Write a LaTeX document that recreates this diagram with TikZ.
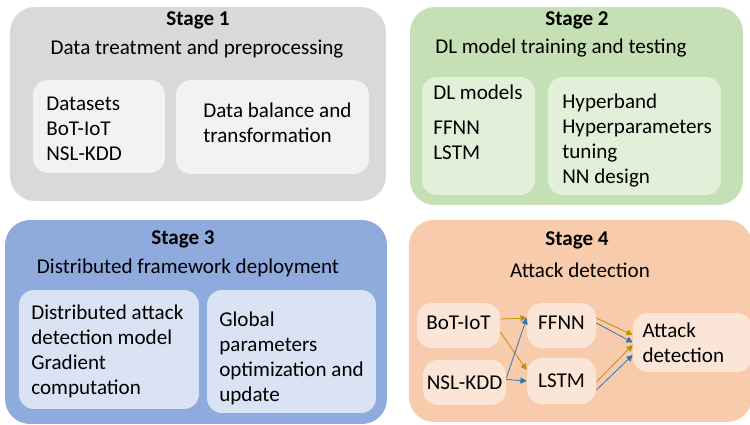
\documentclass[tikz,border=0pt]{standalone}
\usepackage{fontspec}
\setmainfont{Carlito}
\usetikzlibrary{arrows.meta, positioning}
\usepackage{xcolor}
\definecolor{grayout}{HTML}{D9D9D9}
\definecolor{grayin}{HTML}{F2F2F2}
\definecolor{greenout}{HTML}{C5E0B4}
\definecolor{greenin}{HTML}{E2F0D9}
\definecolor{blueout}{HTML}{8FAADC}
\definecolor{bluein}{HTML}{DAE3F3}
\definecolor{orangeout}{HTML}{F8CBAD}
\definecolor{orangein}{HTML}{FBE5D6}
\definecolor{arrgold}{HTML}{BF9000}
\definecolor{arrblue}{HTML}{2E75B6}

\begin{document}
\begin{tikzpicture}[
  x=0.02cm, y=-0.02cm,
  stage/.style={rectangle, rounded corners=0.5cm, inner sep=0pt},
  panel/.style={rectangle, rounded corners=0.3cm, inner sep=0pt},
  txt/.style={align=left, inner sep=0pt, anchor=west, font=\fontsize{12}{14.2}\selectfont},
  ttl/.style={inner sep=0pt, font=\fontsize{12}{14.2}\selectfont\bfseries},
  sub/.style={inner sep=0pt, font=\fontsize{12}{14.2}\selectfont},
  goldarr/.style={->, draw=arrgold, line width=0.45pt},
  bluearr/.style={->, draw=arrblue, line width=0.45pt},
  >={Triangle[length=3.5pt,width=3.5pt]}
]
\clip (0,0) rectangle (750,425);

% stage 1
\node[stage, fill=grayout, minimum width=7.52cm, minimum height=3.88cm] (s1) at (198,104) {};
\node[ttl] (s1ttl) at (198,20) {Stage 1};
\node[sub] (s1sub) at (197,49) {Data treatment and preprocessing};
\node[panel, fill=grayin, minimum width=2.64cm, minimum height=1.86cm] (s1a) at (99,126.5) {};
\node[panel, fill=grayin, minimum width=3.86cm, minimum height=1.88cm] (s1b) at (272.5,127) {};
\node[txt] (s1atxt) at (46,129) {Datasets\\BoT-IoT\\NSL-KDD};
\node[txt] (s1btxt) at (203,123) {Data balance and\\transformation};

% stage 2
\node[stage, fill=greenout, minimum width=6.66cm, minimum height=3.96cm] (s2) at (576.5,106) {};
\node[ttl] (s2ttl) at (577,20) {Stage 2};
\node[sub] (s2sub) at (561,48) {DL model training and testing};
\node[panel, fill=greenin, minimum width=2.26cm, minimum height=2.36cm] (s2a) at (478.5,136) {};
\node[panel, fill=greenin, minimum width=3.46cm, minimum height=2.36cm] (s2b) at (634.5,136) {};
\node[txt] (s2atxt) at (433,122.5) {DL models\\[0.2cm]FFNN\\LSTM};
\node[txt] (s2btxt) at (562,140.5) {Hyperband\\Hyperparameters\\tuning\\NN design};

% stage 3
\node[stage, fill=blueout, minimum width=7.64cm, minimum height=4.08cm] (s3) at (196,322) {};
\node[ttl] (s3ttl) at (183,239) {Stage 3};
\node[sub] (s3sub) at (188,268) {Distributed framework deployment};
\node[panel, fill=bluein, minimum width=3.6cm, minimum height=2.38cm] (s3a) at (109,349.5) {};
\node[panel, fill=bluein, minimum width=3.38cm, minimum height=2.46cm] (s3b) at (291.5,351.5) {};
\node[txt] (s3atxt) at (31,351.5) {Distributed attack\\detection model\\Gradient\\computation};
\node[txt] (s3btxt) at (219,358.5) {Global\\parameters\\optimization and\\update};

% stage 4
\node[stage, fill=orangeout, minimum width=6.86cm, minimum height=4.04cm] (s4) at (580.5,321) {};
\node[ttl] (s4ttl) at (577,240) {Stage 4};
\node[sub] (s4sub) at (580,270) {Attack detection};
\node[panel, fill=orangein, minimum width=1.66cm, minimum height=0.9cm, font=\fontsize{12}{14.2}\selectfont, text depth=0.12cm] (bot) at (458.5,325.5) {BoT-IoT};
\node[panel, fill=orangein, minimum width=1.66cm, minimum height=0.9cm, font=\fontsize{12}{14.2}\selectfont] (nsl) at (464.5,382.5) {NSL-KDD};
\node[panel, fill=orangein, minimum width=1.38cm, minimum height=0.9cm, font=\fontsize{12}{14.2}\selectfont, text depth=0.12cm] (ffnn) at (561.5,325.5) {FFNN};
\node[panel, fill=orangein, minimum width=1.38cm, minimum height=0.92cm, font=\fontsize{12}{14.2}\selectfont] (lstm) at (561.5,381) {LSTM};
\node[panel, fill=orangein, minimum width=2.38cm, minimum height=1.18cm, font=\fontsize{12}{14.2}\selectfont, align=left, text width=2.0cm] (att) at (692.5,342.5) {Attack\\detection};

\draw[goldarr] ([yshift=0.13cm]bot.east) -- ([yshift=0.15cm]ffnn.west);
\draw[goldarr] ([yshift=-0.13cm]bot.east) -- ([yshift=0.22cm]lstm.west);
\draw[bluearr] ([yshift=0.09cm]nsl.east) -- ([yshift=0.15cm]ffnn.west);
\draw[bluearr] ([yshift=0.06cm]nsl.east) -- ([yshift=0cm]lstm.west);

\draw[goldarr] ([yshift=0.15cm]ffnn.east) -- ([yshift=0.15cm]att.west);
\draw[bluearr] ([yshift=0.05cm]ffnn.east) -- ([yshift=0cm]att.west);
\draw[goldarr] ([yshift=-0.02cm]lstm.east) -- ([yshift=-0.05cm]att.west);
\draw[bluearr] ([yshift=-0.18cm]lstm.east) -- ([yshift=-0.25cm]att.west);
\end{tikzpicture}
\end{document}
